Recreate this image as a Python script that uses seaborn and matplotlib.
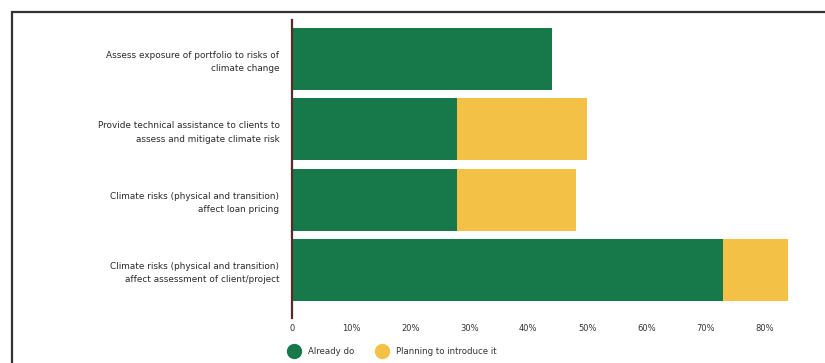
import matplotlib
matplotlib.use("Agg")
import matplotlib.pyplot as plt
import seaborn as sns
import pandas as pd
from matplotlib.lines import Line2D
from matplotlib.patches import Rectangle

categories = [
    "Assess exposure of portfolio to risks of\nclimate change",
    "Provide technical assistance to clients to\nassess and mitigate climate risk",
    "Climate risks (physical and transition)\naffect loan pricing",
    "Climate risks (physical and transition)\naffect assessment of client/project",
]
already_do = [44, 28, 28, 73]
planning = [0, 22, 20, 11]
xticks = [0, 10, 20, 30, 40, 50, 60, 70, 80]
xticklabels = ["0", "10%", "20%", "30%", "40%", "50%", "60%", "70%", "80%"]
series_names = ["Already do", "Planning to introduce it"]

GREEN = "#17784a"
YELLOW = "#f2c146"

sns.set_theme(style="white")
plt.rcParams['font.family'] = ['DejaVu Sans']

df = pd.DataFrame({
    "category": categories,
    "already": already_do,
    "total": [a + p for a, p in zip(already_do, planning)],
})

fig = plt.figure(figsize=(8.25, 3.63), dpi=100)
ax = fig.add_axes([292 / 825, 1 - 318 / 363, (812 - 292) / 825, (318 - 20) / 363])

sns.barplot(data=df, y="category", x="total", color=YELLOW, orient="h",
            width=0.88, ax=ax, saturation=1, linewidth=0)
sns.barplot(data=df, y="category", x="already", color=GREEN, orient="h",
            width=0.88, ax=ax, saturation=1, linewidth=0)

ax.set_xlim(0, 88)
ax.set_ylim(3.68, -0.555)
ax.set_xticks(xticks)
ax.set_xticklabels(xticklabels, fontsize=6, color="#333333")
ax.set_yticks(range(len(categories)))
ax.set_yticklabels(categories, fontsize=6.4, color="#2a2a2a", linespacing=1.6)
ax.set_xlabel("")
ax.set_ylabel("")
for s in ["top", "right", "bottom"]:
    ax.spines[s].set_visible(False)
ax.spines["left"].set_color("#5a2a2a")
ax.spines["left"].set_linewidth(1.6)
ax.tick_params(axis="y", length=3, width=1, color="#333333", pad=6)
ax.tick_params(axis="x", length=0, pad=4)

# border frame
fig.patches.append(Rectangle((12 / 825, -0.05), 1.2, 1 - 12 / 363 + 0.05,
                             transform=fig.transFigure, fill=False,
                             edgecolor="#333333", linewidth=1.6, zorder=0))

handles = [
    Line2D([0], [0], marker="o", linestyle="", markersize=10,
           markerfacecolor=GREEN, markeredgecolor=GREEN),
    Line2D([0], [0], marker="o", linestyle="", markersize=10,
           markerfacecolor=YELLOW, markeredgecolor=YELLOW),
]
fig.legend(handles, series_names, loc="center left",
           bbox_to_anchor=(278 / 825, 1 - 352 / 363), ncol=2, frameon=False,
           fontsize=6.2, handletextpad=0.6, columnspacing=2.2, labelcolor="#333333")

fig.savefig("out.png", dpi=100)
